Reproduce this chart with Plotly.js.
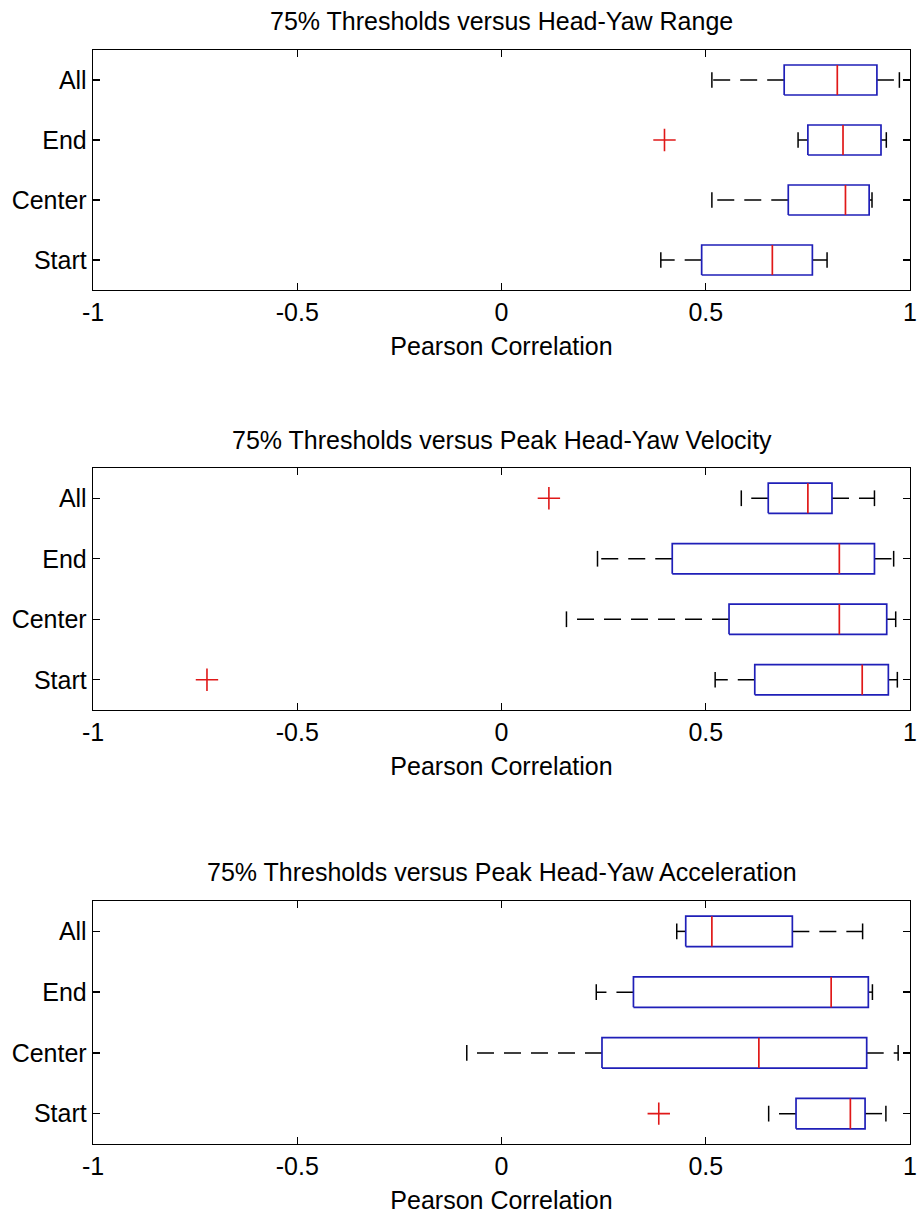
<!DOCTYPE html>
<html>
<head>
<meta charset="utf-8">
<script src="https://cdn.plot.ly/plotly-3.0.1.min.js"></script>
<style>html,body{margin:0;padding:0;background:#fff;}#chart{width:918px;height:1214px;}</style>
</head>
<body>
<div id="chart"></div>
<script>
// Categories (bottom to top)
const categories = ['Start', 'Center', 'End', 'All'];
const xTickVals = [-1, -0.5, 0, 0.5, 1];
const xTickText = ['-1', '-0.5', '0', '0.5', '1'];

const panelTitles = [
  '75% Thresholds versus Head-Yaw Range',
  '75% Thresholds versus Peak Head-Yaw Velocity',
  '75% Thresholds versus Peak Head-Yaw Acceleration'
];
const xAxisLabel = 'Pearson Correlation';

// Panel 1: Head-Yaw Range  (order: Start, Center, End, All)
const rangeLower   = [0.390, 0.515, 0.726, 0.515];
const rangeQ1      = [0.490, 0.702, 0.750, 0.692];
const rangeMedian  = [0.663, 0.842, 0.836, 0.822];
const rangeQ3      = [0.761, 0.900, 0.929, 0.919];
const rangeUpper   = [0.797, 0.907, 0.942, 0.974];
const rangeOutliers = [[], [], [0.399], []];

// Panel 2: Peak Head-Yaw Velocity
const velLower   = [0.523, 0.159, 0.235, 0.587];
const velQ1      = [0.620, 0.557, 0.418, 0.653];
const velMedian  = [0.883, 0.827, 0.827, 0.750];
const velQ3      = [0.947, 0.943, 0.913, 0.809];
const velUpper   = [0.969, 0.965, 0.960, 0.913];
const velOutliers = [[-0.721], [], [], [0.116]];

// Panel 3: Peak Head-Yaw Acceleration
const accLower   = [0.654, -0.085, 0.232, 0.429];
const accQ1      = [0.721, 0.246, 0.323, 0.451];
const accMedian  = [0.854, 0.630, 0.807, 0.515];
const accQ3      = [0.890, 0.894, 0.898, 0.712];
const accUpper   = [0.941, 0.971, 0.908, 0.884];
const accOutliers = [[0.385], [], [], []];

const panels = [
  {lo: rangeLower, q1: rangeQ1, med: rangeMedian, q3: rangeQ3, hi: rangeUpper, out: rangeOutliers},
  {lo: velLower, q1: velQ1, med: velMedian, q3: velQ3, hi: velUpper, out: velOutliers},
  {lo: accLower, q1: accQ1, med: accMedian, q3: accQ3, hi: accUpper, out: accOutliers}
];

// style constants
const BOX_HALF = 0.25, CAP_HALF = 0.13;
const BLUE = '#1f1fb8', RED = '#e01818', BLACK = '#000000';
const FONT = 'Liberation Sans, Arial, sans-serif';
const FS = 25;

// panel placement (paper fractions)
const H = 1214;
const panelPx = [[50, 290], [468, 710], [901, 1144]];
const titlePx = [21, 440, 872];

const traces = [];
panels.forEach((p, k) => {
  const xa = k === 0 ? 'x' : 'x' + (k + 1);
  const ya = k === 0 ? 'y' : 'y' + (k + 1);
  const bx = [], by = [], mx = [], my = [], wx = [], wy = [], cx = [], cy = [], ox = [], oy = [];
  categories.forEach((c, i) => {
    const y = i + 1;
    bx.push(p.q1[i], p.q3[i], p.q3[i], p.q1[i], p.q1[i], null);
    by.push(y - BOX_HALF, y - BOX_HALF, y + BOX_HALF, y + BOX_HALF, y - BOX_HALF, null);
    mx.push(p.med[i], p.med[i], null);
    my.push(y - BOX_HALF, y + BOX_HALF, null);
    wx.push(p.q1[i], p.lo[i], null, p.q3[i], p.hi[i], null);
    wy.push(y, y, null, y, y, null);
    cx.push(p.lo[i], p.lo[i], null, p.hi[i], p.hi[i], null);
    cy.push(y - CAP_HALF, y + CAP_HALF, null, y - CAP_HALF, y + CAP_HALF, null);
    p.out[i].forEach(v => { ox.push(v); oy.push(y); });
  });
  const common = {xaxis: xa, yaxis: ya, hoverinfo: 'skip', showlegend: false};
  traces.push(Object.assign({type: 'scatter', mode: 'lines', x: wx, y: wy,
    line: {color: BLACK, width: 1.5, dash: '17px,10px'}}, common));
  traces.push(Object.assign({type: 'scatter', mode: 'lines', x: cx, y: cy,
    line: {color: BLACK, width: 1.5}}, common));
  traces.push(Object.assign({type: 'scatter', mode: 'lines', x: bx, y: by,
    line: {color: BLUE, width: 1.7}}, common));
  traces.push(Object.assign({type: 'scatter', mode: 'lines', x: mx, y: my,
    line: {color: RED, width: 1.7}}, common));
  traces.push(Object.assign({type: 'scatter', mode: 'markers', x: ox, y: oy,
    marker: {symbol: 'cross-thin-open', size: 16, color: RED, line: {color: RED, width: 1.6}}}, common));
});

const layout = {
  width: 918, height: 1214,
  margin: {l: 93, r: 8, t: 0, b: 0},
  paper_bgcolor: '#ffffff', plot_bgcolor: '#ffffff',
  showlegend: false,
  font: {family: FONT, size: FS, color: BLACK},
  annotations: []
};

panelPx.forEach((pp, k) => {
  const sx = k === 0 ? '' : String(k + 1);
  layout['xaxis' + sx] = {
    anchor: 'y' + sx, domain: [0, 1], range: [-1, 1],
    tickvals: xTickVals, ticktext: xTickText,
    ticks: 'inside', ticklen: 7, tickwidth: 1.3, tickcolor: BLACK,
    showline: true, linecolor: BLACK, linewidth: 1.3, mirror: 'ticks',
    showgrid: false, zeroline: false, fixedrange: true,
    ticklabeloverflow: 'allow',
    tickfont: {family: FONT, size: FS, color: BLACK},
    title: {text: xAxisLabel, font: {family: FONT, size: FS, color: BLACK}, standoff: 12}
  };
  layout['yaxis' + sx] = {
    anchor: 'x' + sx, domain: [1 - pp[1] / H, 1 - pp[0] / H], range: [0.5, 4.5],
    tickvals: [1, 2, 3, 4], ticktext: categories,
    ticks: 'inside', ticklen: 7, tickwidth: 1.3, tickcolor: BLACK,
    showline: true, linecolor: BLACK, linewidth: 1.3, mirror: 'ticks',
    showgrid: false, zeroline: false, fixedrange: true,
    tickfont: {family: FONT, size: FS, color: BLACK}
  };
  layout.annotations.push({
    text: panelTitles[k], xref: 'paper', yref: 'paper', x: 0.5, y: 1 - titlePx[k] / H,
    xanchor: 'center', yanchor: 'middle', showarrow: false,
    font: {family: FONT, size: FS, color: BLACK}
  });
});

Plotly.newPlot('chart', traces, layout, {displayModeBar: false, staticPlot: true});
</script>
</body>
</html>
